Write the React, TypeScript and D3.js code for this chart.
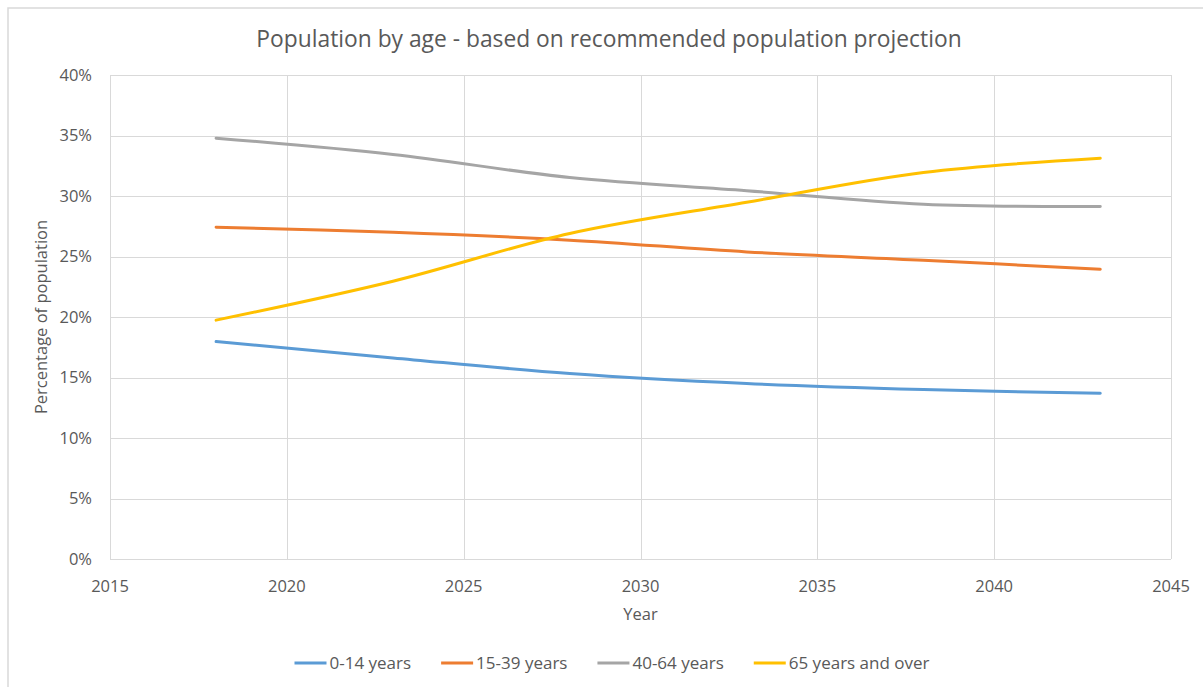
import React, { useEffect, useRef } from "react";
import * as d3 from "d3";

// Projection years and share of population (%) per age group
const years = [2018, 2023, 2028, 2033, 2038, 2043];
const age0to14 = [17.97, 16.62, 15.33, 14.5, 14.0, 13.7];
const age15to39 = [27.42, 27.01, 26.35, 25.38, 24.69, 23.95];
const age40to64 = [34.78, 33.43, 31.53, 30.44, 29.32, 29.13];
const age65plus = [19.74, 22.96, 26.9, 29.48, 31.94, 33.12];

const seriesNames = ["0-14 years", "15-39 years", "40-64 years", "65 years and over"];
const seriesColors = ["#5B9BD5", "#ED7D31", "#A5A5A5", "#FFC000"];
const xTicks = [2015, 2020, 2025, 2030, 2035, 2040, 2045];
const yTicks = [0, 5, 10, 15, 20, 25, 30, 35, 40];

const title = "Population by age - based on recommended population projection";
const xTitle = "Year";
const yTitle = "Percentage of population";

const W = 1203;
const H = 687;
const FONT = "'Open Sans', 'Noto Sans', sans-serif";
const TEXT = "#595959";
const GRID = "#d9d9d9";

export default function App() {
  const ref = useRef<SVGSVGElement | null>(null);

  useEffect(() => {
    const svg = d3.select(ref.current);
    svg.selectAll("*").remove();

    const plot = { left: 110, right: 1171, top: 75, bottom: 559 };
    const x = d3.scaleLinear().domain([2015, 2045]).range([plot.left, plot.right]);
    const y = d3.scaleLinear().domain([0, 40]).range([plot.bottom, plot.top]);

    // chart area frame
    svg
      .append("rect")
      .attr("x", 8)
      .attr("y", 8)
      .attr("width", W + 20)
      .attr("height", H + 20)
      .attr("fill", "#fff")
      .attr("stroke", GRID)
      .attr("stroke-width", 1.5);

    svg
      .append("text")
      .attr("x", 609)
      .attr("y", 47)
      .attr("text-anchor", "middle")
      .attr("font-family", FONT)
      .attr("font-size", 22.8)
      .attr("fill", TEXT)
      .text(title);

    // gridlines
    const g = svg.append("g");
    g.selectAll("line.h")
      .data(yTicks)
      .join("line")
      .attr("x1", plot.left)
      .attr("x2", plot.right)
      .attr("y1", (d) => Math.round(y(d)) + 0.5)
      .attr("y2", (d) => Math.round(y(d)) + 0.5)
      .attr("stroke", GRID)
      .attr("stroke-width", 1);
    g.selectAll("line.v")
      .data(xTicks)
      .join("line")
      .attr("y1", plot.top)
      .attr("y2", plot.bottom)
      .attr("x1", (d) => Math.round(x(d)) + 0.5)
      .attr("x2", (d) => Math.round(x(d)) + 0.5)
      .attr("stroke", GRID)
      .attr("stroke-width", 1);

    // tick labels
    g.selectAll("text.y")
      .data(yTicks)
      .join("text")
      .attr("x", 92)
      .attr("y", (d) => y(d))
      .attr("dy", "0.35em")
      .attr("text-anchor", "end")
      .attr("font-family", FONT)
      .attr("font-size", 16.5)
      .attr("fill", TEXT)
      .text((d) => `${d}%`);
    g.selectAll("text.x")
      .data(xTicks)
      .join("text")
      .attr("x", (d) => x(d))
      .attr("y", 592)
      .attr("text-anchor", "middle")
      .attr("font-family", FONT)
      .attr("font-size", 16.5)
      .attr("fill", TEXT)
      .text((d) => String(d));

    svg
      .append("text")
      .attr("x", x(2030))
      .attr("y", 620)
      .attr("text-anchor", "middle")
      .attr("font-family", FONT)
      .attr("font-size", 16.5)
      .attr("fill", TEXT)
      .text(xTitle);
    svg
      .append("text")
      .attr("transform", `translate(47, ${(plot.top + plot.bottom) / 2}) rotate(-90)`)
      .attr("text-anchor", "middle")
      .attr("font-family", FONT)
      .attr("font-size", 16.5)
      .attr("fill", TEXT)
      .text(yTitle);

    // series lines
    const series = [age0to14, age15to39, age40to64, age65plus];
    const line = d3
      .line<number>()
      .x((_, i) => x(years[i]))
      .y((d) => y(d))
      .curve(d3.curveCatmullRom.alpha(0.5));
    svg
      .append("g")
      .selectAll("path")
      .data(series)
      .join("path")
      .attr("d", (d) => line(d))
      .attr("fill", "none")
      .attr("stroke", (_, i) => seriesColors[i])
      .attr("stroke-width", 3)
      .attr("stroke-linecap", "round");

    // legend, centred under the plot
    const legend = svg.append("g");
    const sample = 32;
    const gapAfterSample = 3;
    const gapBetween = 30;
    const items = seriesNames.map((name, i) => {
      const item = legend.append("g");
      item
        .append("line")
        .attr("x1", 0)
        .attr("x2", sample)
        .attr("y1", 0)
        .attr("y2", 0)
        .attr("stroke", seriesColors[i])
        .attr("stroke-width", 3);
      const t = item
        .append("text")
        .attr("x", sample + gapAfterSample)
        .attr("y", 0)
        .attr("dy", "0.35em")
        .attr("font-family", FONT)
        .attr("font-size", 17)
        .attr("fill", TEXT)
        .text(name);
      const w = sample + gapAfterSample + (t.node() as SVGTextElement).getComputedTextLength();
      return { item, w };
    });
    const total = d3.sum(items, (d) => d.w) + gapBetween * (items.length - 1);
    let cx = 612 - total / 2;
    items.forEach(({ item, w }) => {
      item.attr("transform", `translate(${cx}, 663)`);
      cx += w + gapBetween;
    });
  }, []);

  return (
    <svg ref={ref} width={W} height={H} style={{ position: "absolute", left: 0, top: 0 }} />
  );
}
